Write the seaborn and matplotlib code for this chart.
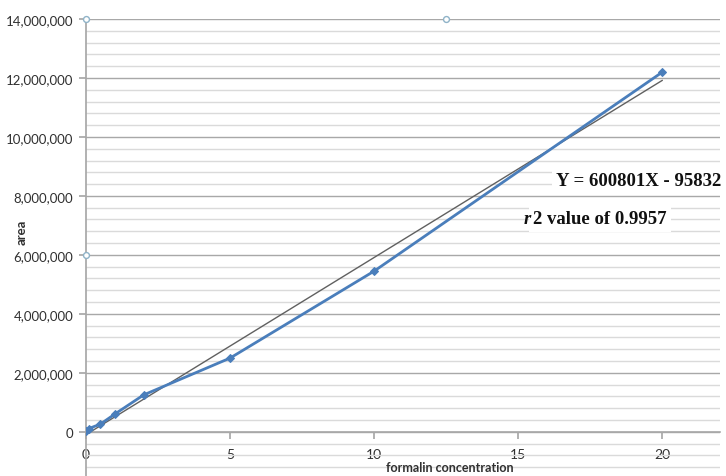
import numpy as np
import pandas as pd
import matplotlib
matplotlib.use("Agg")
import matplotlib.pyplot as plt
import seaborn as sns
from matplotlib.ticker import FuncFormatter, MultipleLocator

# data
conc = [0, 0.1, 0.5, 1, 2, 5, 10, 20]
area = [20000, 110000, 260000, 600000, 1250000, 2500000, 5450000, 12200000]
slope = 600801
intercept = -95832
trend_x = [0, 20]
handle_x = [0, 12.5, 0]
handle_y = [14000000, 14000000, 6000000]
eq_text = "Y = 600801X - 95832"
r2_value = "0.9957"

sns.set_theme(style="white")
plt.rcParams['font.family'] = ['Lato', 'DejaVu Sans']

fig = plt.figure(figsize=(7.26, 4.77), dpi=100)
ax = fig.add_axes([86/726, 0.0, (720-86)/726, (477-20)/477])

df = pd.DataFrame({"conc": conc, "area": area})
trend_df = pd.DataFrame({"x": trend_x, "y": [slope * v + intercept for v in trend_x]})

sns.lineplot(data=trend_df, x="x", y="y", ax=ax, color="#606060", lw=1.0, zorder=3)
sns.lineplot(data=df, x="conc", y="area", ax=ax, color="#4a7ebb", lw=2.0,
             marker="D", markersize=4, markeredgecolor="#4a7ebb", zorder=4)
sns.scatterplot(x=handle_x, y=handle_y, ax=ax, marker="o", s=18,
                facecolor="white", edgecolor="#8fb3c8", linewidth=1.0, zorder=6, clip_on=False)

ax.set_xlim(0, 22)
ax.set_ylim(-1500000, 14000000)

ax.yaxis.set_major_locator(MultipleLocator(2000000))
ax.yaxis.set_minor_locator(MultipleLocator(400000))
ax.xaxis.set_major_locator(MultipleLocator(5))
ax.grid(which="major", axis="y", color="#a8a8a8", lw=1.0)
ax.grid(which="minor", axis="y", color="#dadada", lw=1.0)
ax.set_axisbelow(True)

ax.yaxis.set_major_formatter(FuncFormatter(lambda v, p: f"{int(v):,}" if v >= 0 else ""))
for s in ["top", "right"]:
    ax.spines[s].set_visible(False)
ax.spines["left"].set_color("#a8a8a8")
ax.spines["left"].set_position(("data", 0))
ax.spines["bottom"].set_position(("data", 0))
ax.spines["bottom"].set_color("#a8a8a8")
ax.spines["bottom"].set_linewidth(1.2)
ax.tick_params(axis="y", which="major", left=True, length=5, color="#a8a8a8",
               labelsize=9.5, labelcolor="#303030", pad=4)
ax.tick_params(axis="y", which="minor", left=False)
ax.tick_params(axis="x", which="major", bottom=True, length=5, color="#a8a8a8",
               labelsize=10, labelcolor="#303030", pad=7)

ax.set_xlabel("")
ax.set_ylabel("")
fig.text(450/726, 1 - 468/477, "formalin concentration", ha="center", va="center",
         fontsize=9, fontweight="bold", color="#303030")
fig.text(22/726, 1 - 232/477, "area", ha="center", va="center", rotation=90,
         fontsize=9.5, fontweight="bold", color="#303030")

bbox = dict(facecolor="white", edgecolor="none", pad=3)
fig.text(556/726, 1 - 182/477, eq_text, ha="left", va="center", fontsize=13.5,
         fontweight="bold", family="Liberation Serif", color="#111111", bbox=bbox)
fig.text(533/726, 1 - 220/477, "2 value of " + r2_value, ha="left", va="center", fontsize=13.5,
         fontweight="bold", family="Liberation Serif", color="#111111", bbox=bbox)
fig.text(524/726, 1 - 220/477, "r", ha="left", va="center", fontsize=13.5, fontweight="bold",
         fontstyle="italic", family="Liberation Serif", color="#111111")

fig.savefig("out.png", dpi=100)
